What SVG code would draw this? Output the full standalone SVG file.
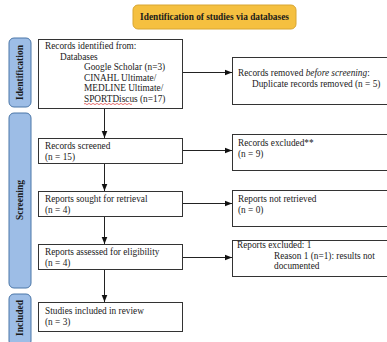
<svg xmlns="http://www.w3.org/2000/svg" width="387" height="342" viewBox="0 0 387 342">
<defs>
<style>
.box{fill:#fff;stroke:#333;stroke-width:1}
.side{fill:#9dbde6;stroke:#4a76a8;stroke-width:1}
.t{font-family:"Liberation Serif","Times New Roman",serif;font-size:9.3px;fill:#222}
.st{font-family:"Liberation Serif","Times New Roman",serif;font-size:9.5px;font-weight:bold;fill:#1a1a1a}
.hd{font-family:"Liberation Serif","Times New Roman",serif;font-size:9.3px;font-weight:bold;fill:#1a1a1a}
.c{fill:none;stroke:#222;stroke-width:1}
</style>
<marker id="ah" viewBox="0 0 10 10" refX="10" refY="5" markerWidth="7" markerHeight="7" orient="auto" markerUnits="userSpaceOnUse">
<path d="M0,1 L10,5 L0,9 Z" fill="#111"/>
</marker>
</defs>
<rect width="387" height="342" fill="#fff"/>

<g id="header">
<rect x="133" y="5" width="163" height="24" rx="5" fill="#f5c040" stroke="#d8a632"/>
<text class="hd" x="214.5" y="20" text-anchor="middle">Identification of studies via databases</text>
</g>

<g id="side-identification">
<rect class="side" x="9" y="38" width="22" height="69" rx="5"/>
<text class="st" transform="translate(23,72.5) rotate(-90)" text-anchor="middle">Identification</text>
</g>
<g id="side-screening">
<rect class="side" x="9" y="113" width="22" height="175" rx="5"/>
<text class="st" transform="translate(23,200) rotate(-90)" text-anchor="middle">Screening</text>
</g>
<g id="side-included">
<rect class="side" x="9" y="294" width="22" height="52" rx="5"/>
<text class="st" transform="translate(23,318) rotate(-90)" text-anchor="middle">Included</text>
</g>

<g id="records-identified">
<rect class="box" x="38.5" y="39.5" width="144" height="69"/>
<text class="t" x="45" y="49">Records identified from:</text>
<text class="t" x="60" y="59.5">Databases</text>
<text class="t" x="84" y="70">Google Scholar (n=3)</text>
<text class="t" x="84" y="80.5">CINAHL Ultimate/</text>
<text class="t" x="84" y="91">MEDLINE Ultimate/</text>
<text class="t" x="84" y="101.5">SPORTDiscus (n=17)</text>
<path d="M84,104 q1,-1.2 2,0 t2,0 t2,0 t2,0 t2,0 t2,0 t2,0 t2,0 t2,0 t2,0 t2,0 t2,0 t2,0 t2,0 t2,0 t2,0 t2,0 t2,0 t2,0 t2,0 t2,0 t2,0 t2,0 t2,0" fill="none" stroke="#d33" stroke-width="0.7"/>
</g>

<g id="records-removed">
<rect class="box" x="232.5" y="57.5" width="160" height="47"/>
<text class="t" x="238" y="75.5">Records removed <tspan font-style="italic">before screening</tspan>:</text>
<text class="t" x="252" y="86.5">Duplicate records removed (n = 5)</text>
</g>

<g id="records-screened">
<rect class="box" x="38.5" y="138.5" width="144" height="25"/>
<text class="t" x="45" y="149">Records screened</text>
<text class="t" x="45" y="159.5">(n = 15)</text>
</g>

<g id="records-excluded">
<rect class="box" x="232.5" y="134.5" width="160" height="36"/>
<text class="t" x="238" y="146">Records excluded**</text>
<text class="t" x="238" y="157">(n = 9)</text>
</g>

<g id="reports-sought">
<rect class="box" x="38.5" y="191.5" width="144" height="25"/>
<text class="t" x="45" y="202">Reports sought for retrieval</text>
<text class="t" x="45" y="212.5">(n = 4)</text>
</g>

<g id="reports-not-retrieved">
<rect class="box" x="232.5" y="190.5" width="160" height="36"/>
<text class="t" x="238" y="202">Reports not retrieved</text>
<text class="t" x="238" y="213">(n = 0)</text>
</g>

<g id="reports-assessed">
<rect class="box" x="38.5" y="244.5" width="144" height="25"/>
<text class="t" x="45" y="255">Reports assessed for eligibility</text>
<text class="t" x="45" y="265.5">(n = 4)</text>
</g>

<g id="reports-excluded">
<rect class="box" x="232.5" y="240.5" width="160" height="36"/>
<text class="t" x="237" y="248">Reports excluded: 1</text>
<text class="t" x="274" y="258.5">Reason 1 (n=1): results not</text>
<text class="t" x="274" y="269">documented</text>
</g>

<g id="studies-included">
<rect class="box" x="38.5" y="302.5" width="144" height="29"/>
<text class="t" x="45" y="314">Studies included in review</text>
<text class="t" x="45" y="325">(n = 3)</text>
</g>

<g id="connectors">
<line class="c" x1="183" y1="72.5" x2="232" y2="72.5" marker-end="url(#ah)"/>
<line class="c" x1="104.5" y1="109" x2="104.5" y2="138" marker-end="url(#ah)"/>
<line class="c" x1="183" y1="150.5" x2="232" y2="150.5" marker-end="url(#ah)" stroke="#777"/>
<line class="c" x1="104.5" y1="164" x2="104.5" y2="191" marker-end="url(#ah)"/>
<line class="c" x1="183" y1="203.5" x2="232" y2="203.5" marker-end="url(#ah)"/>
<line class="c" x1="104.5" y1="217" x2="104.5" y2="244" marker-end="url(#ah)"/>
<line class="c" x1="183" y1="257.5" x2="232" y2="257.5" marker-end="url(#ah)"/>
<line class="c" x1="104.5" y1="270" x2="104.5" y2="302" marker-end="url(#ah)"/>
</g>
</svg>
